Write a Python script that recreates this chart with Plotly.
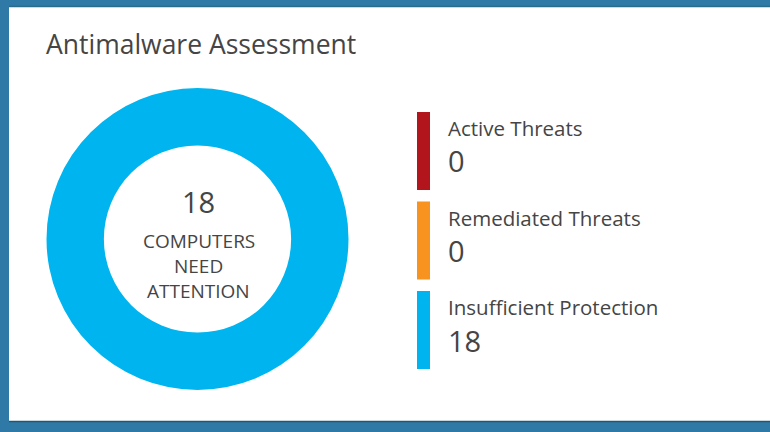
import plotly.graph_objects as go

# Data
categories = ["Active Threats", "Remediated Threats", "Insufficient Protection"]
counts = [0, 0, 18]
colors = ["#b3151d", "#f7931e", "#00b4ef"]
title_text = "Antimalware Assessment"
center_total = sum(counts)
center_caption = ["COMPUTERS", "NEED", "ATTENTION"]

W, H = 770, 432
FONT = "Open Sans"
TXT = "#454545"
FRAME = "#2e79a5"


def px(x):
    return x / W


def py(y):
    return 1 - y / H


fig = go.Figure()

fig.add_trace(go.Pie(
    labels=categories,
    values=counts,
    marker=dict(colors=colors, line=dict(width=0)),
    hole=0.62,
    sort=False,
    direction="clockwise",
    textinfo="none",
    showlegend=False,
    domain=dict(x=[px(46), px(349)], y=[py(390), py(88)]),
))

shapes = [
    # frame bands: top, left, bottom
    dict(type="rect", xref="paper", yref="paper", x0=0, x1=1, y0=py(7), y1=1,
         fillcolor=FRAME, line=dict(width=0), layer="below"),
    dict(type="rect", xref="paper", yref="paper", x0=0, x1=px(9), y0=0, y1=1,
         fillcolor=FRAME, line=dict(width=0), layer="below"),
    dict(type="rect", xref="paper", yref="paper", x0=0, x1=1, y0=0, y1=py(421),
         fillcolor=FRAME, line=dict(width=0), layer="below"),
    dict(type="line", xref="paper", yref="paper", x0=px(9), x1=1, y0=py(6.5), y1=py(6.5),
         line=dict(color="#2a6b8c", width=1.5), layer="below"),
    dict(type="line", xref="paper", yref="paper", x0=px(9), x1=1, y0=py(421.5), y1=py(421.5),
         line=dict(color="#24576f", width=1.5), layer="below"),
]

annotations = [
    dict(text=title_text, x=px(44), y=py(44), xanchor="left", yanchor="middle",
         font=dict(family=FONT, size=26.5, color=TXT)),
    dict(text=str(center_total), x=px(199), y=py(201), xanchor="center", yanchor="middle",
         font=dict(family=FONT, size=29, color=TXT)),
]
for i, line in enumerate(center_caption):
    annotations.append(dict(text=line, x=px(199), y=py(241 + i * 25), xanchor="center",
                            yanchor="middle", font=dict(family=FONT, size=19, color=TXT)))

top0, step, bar_h = 112, 89.5, 78
for i, (cat, val, col) in enumerate(zip(categories, counts, colors)):
    t = top0 + i * step
    shapes.append(dict(type="rect", xref="paper", yref="paper", x0=px(417), x1=px(430),
                       y0=py(t + bar_h), y1=py(t), fillcolor=col, line=dict(width=0)))
    annotations.append(dict(text=cat, x=px(446), y=py(t + 16), xanchor="left", yanchor="middle",
                            font=dict(family=FONT, size=20.5, color=TXT)))
    annotations.append(dict(text=str(val), x=px(446), y=py(t + 49), xanchor="left",
                            yanchor="middle", font=dict(family=FONT, size=29, color=TXT)))

for a in annotations:
    a.update(xref="paper", yref="paper", showarrow=False)

fig.update_layout(
    width=W, height=H,
    margin=dict(l=0, r=0, t=0, b=0),
    paper_bgcolor="white",
    plot_bgcolor="white",
    shapes=shapes,
    annotations=annotations,
)

fig.write_html("out.html", config={"displayModeBar": False},
               post_script="document.body.style.margin='0';document.body.style.overflow='hidden';")
